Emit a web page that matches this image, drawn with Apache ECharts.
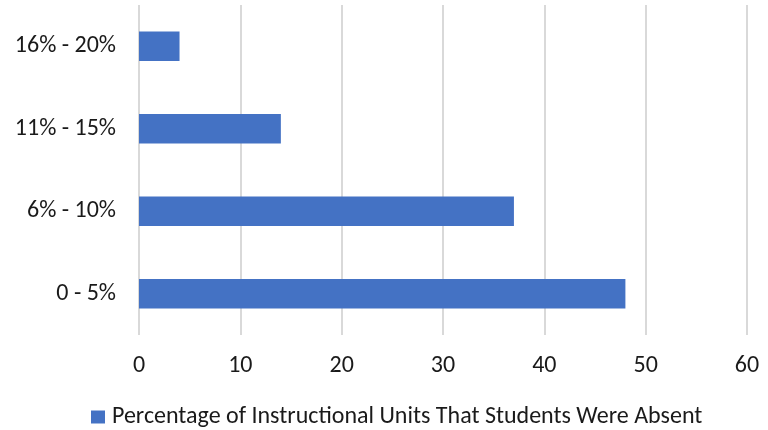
<!DOCTYPE html>
<html>
<head>
<meta charset="utf-8">
<script src="https://cdn.jsdelivr.net/npm/echarts@6/dist/echarts.min.js"></script>
<style>
  html, body { margin: 0; padding: 0; background: #fff; }
</style>
</head>
<body>
<div id="main" style="width:768px;height:430px;"></div>
<script>
var categories = ["0 - 5%", "6% - 10%", "11% - 15%", "16% - 20%"];
var values = [48, 37, 14, 4];
var seriesName = "Percentage of Instructional Units That Students Were Absent";

var chart = echarts.init(document.getElementById("main"));
var fontFamily = "Carlito, 'Open Sans', 'Liberation Sans', sans-serif";
var option = {
  animation: false,
  textStyle: { fontFamily: fontFamily },
  grid: { left: 139, right: 21, top: 5, bottom: 95 },
  legend: {
    top: 405,
    left: 91,
    padding: 0,
    itemWidth: 14,
    itemHeight: 13,
    icon: "rect",
    textStyle: { fontSize: 24, color: "#1a1a1a", fontFamily: fontFamily, padding: [0, 0, 0, 2] },
    data: [seriesName]
  },
  xAxis: {
    type: "value",
    min: 0,
    max: 60,
    interval: 10,
    axisLine: { show: false },
    axisTick: { show: false },
    axisLabel: { fontSize: 24, color: "#1a1a1a", margin: 19 },
    splitLine: { lineStyle: { color: "#d9d9d9", width: 2 } }
  },
  yAxis: {
    type: "category",
    data: categories,
    axisLine: { show: false },
    axisTick: { show: false },
    axisLabel: { fontSize: 24, color: "#1a1a1a", margin: 23 }
  },
  series: [
    {
      name: seriesName,
      type: "bar",
      data: values,
      barCategoryGap: "64%",
      itemStyle: { color: "#4472c4" }
    }
  ]
};
chart.setOption(option);
</script>
</body>
</html>
